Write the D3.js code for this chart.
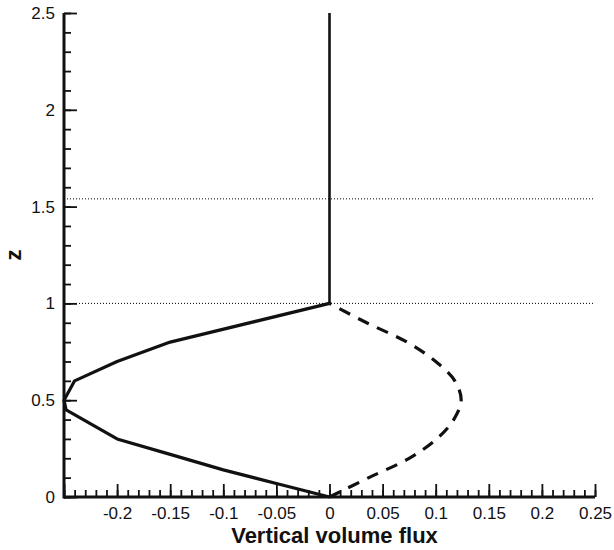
<!DOCTYPE html>
<html>
<head>
<meta charset="utf-8">
<script src="https://cdn.jsdelivr.net/npm/d3@7"></script>
<style>
  body { margin: 0; background: #fff; }
  text { font-family: "Liberation Sans", Arial, sans-serif; }
</style>
</head>
<body>
<div id="chart"></div>
<script>
// data
const upwardFlux = [
  {x: 0, z: 0}, {x: -0.05, z: 0.07}, {x: -0.1, z: 0.14}, {x: -0.15, z: 0.22},
  {x: -0.2, z: 0.3}, {x: -0.248, z: 0.45}, {x: -0.25, z: 0.5}, {x: -0.24, z: 0.6},
  {x: -0.2, z: 0.7}, {x: -0.15, z: 0.8}, {x: 0, z: 1}
];
const stem = [{x: 0, z: 1}, {x: 0, z: 2.5}];
const returnFlux = [
  {x: 0, z: 0}, {x: 0.037, z: 0.1}, {x: 0.075, z: 0.2}, {x: 0.101, z: 0.3},
  {x: 0.117, z: 0.4}, {x: 0.124, z: 0.5}, {x: 0.118, z: 0.6}, {x: 0.1, z: 0.7},
  {x: 0.073, z: 0.8}, {x: 0.035, z: 0.9}, {x: 0, z: 1}
];
const levels = [1, 1.54];
const xTicks = [-0.2, -0.15, -0.1, -0.05, 0, 0.05, 0.1, 0.15, 0.2, 0.25];
const yTicks = [0, 0.5, 1, 1.5, 2, 2.5];

const width = 614;
const height = 550;
const margin = {top: 13, left: 64, right: 19, bottom: 53};

const viz = d3.select("#chart")
    .append("svg")
    .attr("width", width)
    .attr("height", height);

// Scales
const xScale = d3.scaleLinear()
    .domain([-0.25, 0.25])
    .range([margin.left, width - margin.right]);

const yScale = d3.scaleLinear()
    .domain([0, 2.5])
    .range([height - margin.bottom, margin.top]);

// dotted reference levels
viz.selectAll(".level")
    .data(levels)
    .enter()
    .append("line")
    .attr("x1", xScale(-0.25))
    .attr("x2", xScale(0.25))
    .attr("y1", d => yScale(d))
    .attr("y2", d => yScale(d))
    .attr("stroke", "#000")
    .attr("stroke-width", 1)
    .attr("stroke-dasharray", "1,2");

// Axes (ticks point into the plot)
const yMinor = d3.range(0, 2.51, 0.1).map(d => +d.toFixed(2));
const xMinor = d3.range(-0.25, 0.251, 0.01).map(d => +d.toFixed(3));

const yAxis = viz.append("g")
    .attr("transform", `translate(${margin.left},0)`);
yAxis.append("g")
    .call(d3.axisRight(yScale).tickValues(yMinor).tickSize(7).tickFormat(""));
yAxis.append("g")
    .call(d3.axisRight(yScale).tickValues(yTicks).tickSize(13).tickFormat(""));
yAxis.append("g")
    .call(d3.axisLeft(yScale).tickValues(yTicks).tickSize(0).tickPadding(9)
        .tickFormat(d => String(d)));

const xAxis = viz.append("g")
    .attr("transform", `translate(0,${height - margin.bottom})`);
xAxis.append("g")
    .call(d3.axisTop(xScale).tickValues(xMinor).tickSize(7).tickFormat(""));
xAxis.append("g")
    .call(d3.axisTop(xScale).tickValues(xTicks.concat([-0.25])).tickSize(13).tickFormat(""));
xAxis.append("g")
    .call(d3.axisBottom(xScale).tickValues(xTicks).tickSize(0).tickPadding(10)
        .tickFormat(d => String(d)));

viz.selectAll(".domain").attr("stroke", "none");
viz.selectAll(".tick line").attr("stroke", "#111").attr("stroke-width", 1.8);
viz.selectAll(".tick text")
    .attr("fill", "#111")
    .style("font-size", "17px")
    .style("font-family", "'Liberation Sans', Arial, sans-serif");

// heavy axis lines
viz.append("line")
    .attr("x1", margin.left).attr("x2", margin.left)
    .attr("y1", yScale(0) + 1.5).attr("y2", yScale(2.5))
    .attr("stroke", "#111").attr("stroke-width", 3);
viz.append("line")
    .attr("x1", margin.left).attr("x2", xScale(0.25))
    .attr("y1", yScale(0)).attr("y2", yScale(0))
    .attr("stroke", "#111").attr("stroke-width", 3);

// Marks
const line = d3.line()
    .x(d => xScale(d.x))
    .y(d => yScale(d.z));

viz.append("path")
    .datum(upwardFlux)
    .attr("d", line)
    .attr("fill", "none")
    .attr("stroke", "#111")
    .attr("stroke-width", 3.2)
    .attr("stroke-linejoin", "round");

viz.append("path")
    .datum(stem)
    .attr("d", line)
    .attr("fill", "none")
    .attr("stroke", "#111")
    .attr("stroke-width", 2.6);

viz.append("path")
    .datum(returnFlux)
    .attr("d", line.curve(d3.curveCatmullRom))
    .attr("fill", "none")
    .attr("stroke", "#111")
    .attr("stroke-width", 3.2)
    .attr("stroke-dasharray", "12,9");

// Labels
viz.append("text")
    .attr("x", xScale(0) + 5)
    .attr("y", 543)
    .attr("text-anchor", "middle")
    .style("font-size", "22px")
    .style("font-weight", "bold")
    .attr("fill", "#111")
    .text("Vertical volume flux");

viz.append("text")
    .attr("transform", `translate(21,${yScale(1.25)}) rotate(-90)`)
    .attr("text-anchor", "middle")
    .style("font-size", "22px")
    .style("font-weight", "bold")
    .attr("fill", "#111")
    .text("z");
</script>
</body>
</html>
